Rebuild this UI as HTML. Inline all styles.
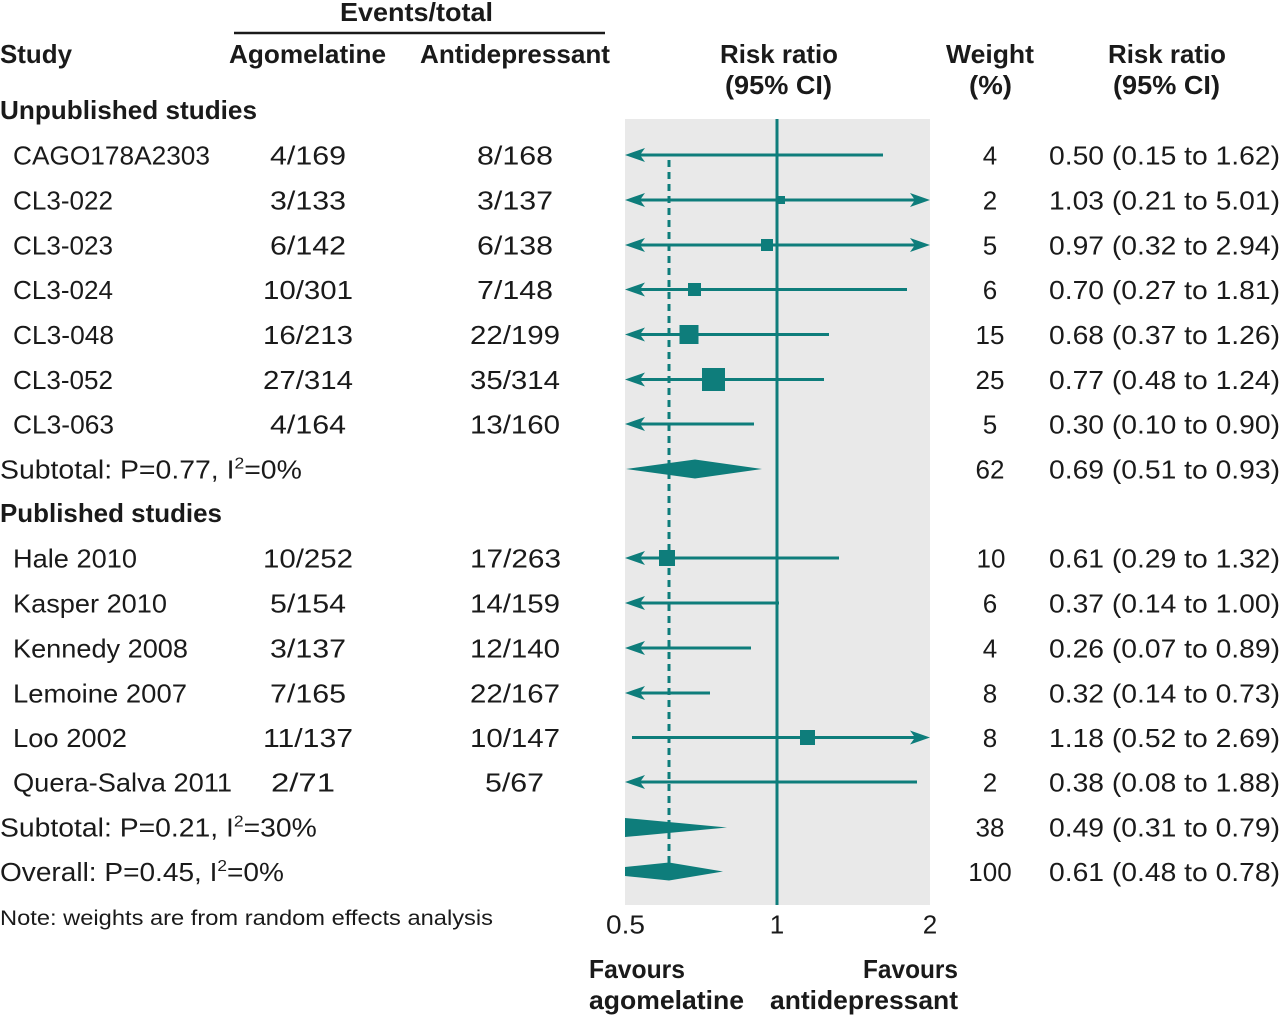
<!DOCTYPE html>
<html><head><meta charset="utf-8"><style>
html,body{margin:0;padding:0;background:#fff;}
svg{display:block;}
text{font-family:"Liberation Sans",sans-serif;fill:#1a1a1a;}
.b{font-weight:bold;font-size:26px;}
.r{font-size:26px;}
</style></head><body>
<svg width="1280" height="1017" viewBox="0 0 1280 1017" xmlns="http://www.w3.org/2000/svg">
<!-- headers -->
<text class="b" x="340" y="21" textLength="153" lengthAdjust="spacingAndGlyphs">Events/total</text>
<line x1="234" y1="33" x2="605" y2="33" stroke="#1a1a1a" stroke-width="2.5"/>
<text class="b" x="0" y="63" textLength="72" lengthAdjust="spacingAndGlyphs">Study</text>
<text class="b" x="229" y="63" textLength="157" lengthAdjust="spacingAndGlyphs">Agomelatine</text>
<text class="b" x="420" y="63" textLength="190" lengthAdjust="spacingAndGlyphs">Antidepressant</text>
<text class="b" x="720" y="63" textLength="118" lengthAdjust="spacingAndGlyphs">Risk ratio</text>
<text class="b" x="725" y="94" textLength="107" lengthAdjust="spacingAndGlyphs">(95% CI)</text>
<text class="b" x="946" y="63" textLength="88" lengthAdjust="spacingAndGlyphs">Weight</text>
<text class="b" x="969" y="94" textLength="43" lengthAdjust="spacingAndGlyphs">(%)</text>
<text class="b" x="1108" y="63" textLength="118" lengthAdjust="spacingAndGlyphs">Risk ratio</text>
<text class="b" x="1113" y="94" textLength="107" lengthAdjust="spacingAndGlyphs">(95% CI)</text>
<text class="b" x="0" y="119" textLength="257" lengthAdjust="spacingAndGlyphs">Unpublished studies</text>
<text class="b" x="0" y="522" textLength="222" lengthAdjust="spacingAndGlyphs">Published studies</text>

<!-- plot background -->
<rect x="625" y="119" width="305" height="786" fill="#e9e9e9"/>

<g fill="#0e7d7b" stroke="none">
<!-- dashed overall line -->
<line x1="669" y1="160" x2="669" y2="880" stroke="#0e7d7b" stroke-width="3" stroke-dasharray="7 5"/>
<!-- null line -->
<line x1="777" y1="119" x2="777" y2="905" stroke="#0e7d7b" stroke-width="3"/>

<!-- row 1 -->
<line x1="635" y1="155" x2="883" y2="155" stroke="#0e7d7b" stroke-width="3"/>
<path d="M625,155 L645,148 L640,155 L645,162 Z"/>
<!-- row 2 -->
<line x1="635" y1="200" x2="920" y2="200" stroke="#0e7d7b" stroke-width="3"/>
<path d="M625,200 L645,193 L640,200 L645,207 Z"/>
<path d="M930,200 L910,193 L915,200 L910,207 Z"/>
<rect x="777" y="196" width="8" height="8"/>
<!-- row 3 -->
<line x1="635" y1="245" x2="920" y2="245" stroke="#0e7d7b" stroke-width="3"/>
<path d="M625,245 L645,238 L640,245 L645,252 Z"/>
<path d="M930,245 L910,238 L915,245 L910,252 Z"/>
<rect x="761" y="239" width="12" height="12"/>
<!-- row 4 -->
<line x1="635" y1="289.5" x2="907" y2="289.5" stroke="#0e7d7b" stroke-width="3"/>
<path d="M625,289.5 L645,282.5 L640,289.5 L645,296.5 Z"/>
<rect x="688" y="283" width="13" height="13"/>
<!-- row 5 -->
<line x1="635" y1="334.5" x2="829" y2="334.5" stroke="#0e7d7b" stroke-width="3"/>
<path d="M625,334.5 L645,327.5 L640,334.5 L645,341.5 Z"/>
<rect x="679.5" y="325" width="19" height="19"/>
<!-- row 6 -->
<line x1="635" y1="379.5" x2="824" y2="379.5" stroke="#0e7d7b" stroke-width="3"/>
<path d="M625,379.5 L645,372.5 L640,379.5 L645,386.5 Z"/>
<rect x="702" y="368" width="23" height="23"/>
<!-- row 7 -->
<line x1="635" y1="424" x2="754" y2="424" stroke="#0e7d7b" stroke-width="3"/>
<path d="M625,424 L645,417 L640,424 L645,431 Z"/>
<!-- subtotal 1 -->
<polygon points="626,469 695,459.5 762,469 695,478.5"/>

<!-- Hale -->
<line x1="635" y1="558" x2="839" y2="558" stroke="#0e7d7b" stroke-width="3"/>
<path d="M625,558 L645,551 L640,558 L645,565 Z"/>
<rect x="659" y="550" width="16" height="16"/>
<!-- Kasper -->
<line x1="635" y1="603" x2="779" y2="603" stroke="#0e7d7b" stroke-width="3"/>
<path d="M625,603 L645,596 L640,603 L645,610 Z"/>
<!-- Kennedy -->
<line x1="635" y1="648" x2="751" y2="648" stroke="#0e7d7b" stroke-width="3"/>
<path d="M625,648 L645,641 L640,648 L645,655 Z"/>
<!-- Lemoine -->
<line x1="635" y1="693" x2="710" y2="693" stroke="#0e7d7b" stroke-width="3"/>
<path d="M625,693 L645,686 L640,693 L645,700 Z"/>
<!-- Loo -->
<line x1="632" y1="737.5" x2="920" y2="737.5" stroke="#0e7d7b" stroke-width="3"/>
<path d="M930,737.5 L910,730.5 L915,737.5 L910,744.5 Z"/>
<rect x="800" y="730" width="15" height="15"/>
<!-- Quera-Salva -->
<line x1="635" y1="782" x2="917" y2="782" stroke="#0e7d7b" stroke-width="3"/>
<path d="M625,782 L645,775 L640,782 L645,789 Z"/>
<!-- subtotal 2 -->
<polygon points="625,818 727,827.5 625,837"/>
<!-- overall -->
<polygon points="625,867 669,862.5 723,871.5 669,880.5 625,876"/>
</g>

<!-- study names -->
<g class="r">
<text class="r" x="13" y="164.5" textLength="197" lengthAdjust="spacingAndGlyphs">CAGO178A2303</text>
<text class="r" x="13" y="209.5" textLength="100" lengthAdjust="spacingAndGlyphs">CL3-022</text>
<text class="r" x="13" y="254.5" textLength="100" lengthAdjust="spacingAndGlyphs">CL3-023</text>
<text class="r" x="13" y="299" textLength="100" lengthAdjust="spacingAndGlyphs">CL3-024</text>
<text class="r" x="13" y="344" textLength="101" lengthAdjust="spacingAndGlyphs">CL3-048</text>
<text class="r" x="13" y="389" textLength="100" lengthAdjust="spacingAndGlyphs">CL3-052</text>
<text class="r" x="13" y="433.5" textLength="101" lengthAdjust="spacingAndGlyphs">CL3-063</text>
<text class="r" x="13" y="567.5" textLength="124" lengthAdjust="spacingAndGlyphs">Hale 2010</text>
<text class="r" x="13" y="612.5" textLength="154" lengthAdjust="spacingAndGlyphs">Kasper 2010</text>
<text class="r" x="13" y="657.5" textLength="175" lengthAdjust="spacingAndGlyphs">Kennedy 2008</text>
<text class="r" x="13" y="702.5" textLength="174" lengthAdjust="spacingAndGlyphs">Lemoine 2007</text>
<text class="r" x="13" y="747" textLength="114" lengthAdjust="spacingAndGlyphs">Loo 2002</text>
<text class="r" x="13" y="791.5" textLength="219" lengthAdjust="spacingAndGlyphs">Quera-Salva 2011</text>

<!-- subtotals -->
<text class="r" x="0" y="478.5" transform="scale(1.093,1)">Subtotal: P=0.77, I<tspan font-size="16" dy="-10">2</tspan><tspan dy="10">=0%</tspan></text>
<text class="r" x="0" y="836.5" transform="scale(1.09,1)">Subtotal: P=0.21, I<tspan font-size="16" dy="-10">2</tspan><tspan dy="10">=30%</tspan></text>
<text class="r" x="0" y="881" transform="scale(1.079,1)">Overall: P=0.45, I<tspan font-size="16" dy="-10">2</tspan><tspan dy="10">=0%</tspan></text>

<!-- agomelatine -->
<text class="r" x="270" y="164.5" textLength="76" lengthAdjust="spacingAndGlyphs">4/169</text>
<text class="r" x="270" y="209.5" textLength="76" lengthAdjust="spacingAndGlyphs">3/133</text>
<text class="r" x="270" y="254.5" textLength="76" lengthAdjust="spacingAndGlyphs">6/142</text>
<text class="r" x="263" y="299" textLength="90" lengthAdjust="spacingAndGlyphs">10/301</text>
<text class="r" x="263" y="344" textLength="90" lengthAdjust="spacingAndGlyphs">16/213</text>
<text class="r" x="263" y="389" textLength="90" lengthAdjust="spacingAndGlyphs">27/314</text>
<text class="r" x="270" y="433.5" textLength="76" lengthAdjust="spacingAndGlyphs">4/164</text>
<text class="r" x="263" y="567.5" textLength="90" lengthAdjust="spacingAndGlyphs">10/252</text>
<text class="r" x="270" y="612.5" textLength="76" lengthAdjust="spacingAndGlyphs">5/154</text>
<text class="r" x="270" y="657.5" textLength="76" lengthAdjust="spacingAndGlyphs">3/137</text>
<text class="r" x="270" y="702.5" textLength="76" lengthAdjust="spacingAndGlyphs">7/165</text>
<text class="r" x="263" y="747" textLength="90" lengthAdjust="spacingAndGlyphs">11/137</text>
<text class="r" x="271" y="791.5" textLength="64" lengthAdjust="spacingAndGlyphs">2/71</text>

<!-- antidepressant -->
<text class="r" x="477" y="164.5" textLength="76" lengthAdjust="spacingAndGlyphs">8/168</text>
<text class="r" x="477" y="209.5" textLength="76" lengthAdjust="spacingAndGlyphs">3/137</text>
<text class="r" x="477" y="254.5" textLength="76" lengthAdjust="spacingAndGlyphs">6/138</text>
<text class="r" x="477" y="299" textLength="76" lengthAdjust="spacingAndGlyphs">7/148</text>
<text class="r" x="470" y="344" textLength="90" lengthAdjust="spacingAndGlyphs">22/199</text>
<text class="r" x="470" y="389" textLength="90" lengthAdjust="spacingAndGlyphs">35/314</text>
<text class="r" x="470" y="433.5" textLength="90" lengthAdjust="spacingAndGlyphs">13/160</text>
<text class="r" x="470" y="567.5" textLength="91" lengthAdjust="spacingAndGlyphs">17/263</text>
<text class="r" x="470" y="612.5" textLength="90" lengthAdjust="spacingAndGlyphs">14/159</text>
<text class="r" x="470" y="657.5" textLength="90" lengthAdjust="spacingAndGlyphs">12/140</text>
<text class="r" x="470" y="702.5" textLength="90" lengthAdjust="spacingAndGlyphs">22/167</text>
<text class="r" x="470" y="747" textLength="90" lengthAdjust="spacingAndGlyphs">10/147</text>
<text class="r" x="485" y="791.5" textLength="59" lengthAdjust="spacingAndGlyphs">5/67</text>

<!-- weights -->
<g text-anchor="middle">
<text class="r" x="990" y="164.5">4</text>
<text class="r" x="990" y="209.5">2</text>
<text class="r" x="990" y="254.5">5</text>
<text class="r" x="990" y="299">6</text>
<text class="r" x="990" y="344">15</text>
<text class="r" x="990" y="389">25</text>
<text class="r" x="990" y="433.5">5</text>
<text class="r" x="990" y="478.5">62</text>
<text class="r" x="991" y="567.5">10</text>
<text class="r" x="990" y="612.5">6</text>
<text class="r" x="990" y="657.5">4</text>
<text class="r" x="990" y="702.5">8</text>
<text class="r" x="990" y="747">8</text>
<text class="r" x="990" y="791.5">2</text>
<text class="r" x="990" y="836.5">38</text>
<text class="r" x="990" y="881">100</text>
</g>

<!-- CIs -->
<text class="r" x="1049" y="164.5" textLength="231" lengthAdjust="spacingAndGlyphs">0.50 (0.15 to 1.62)</text>
<text class="r" x="1049" y="209.5" textLength="231" lengthAdjust="spacingAndGlyphs">1.03 (0.21 to 5.01)</text>
<text class="r" x="1049" y="254.5" textLength="231" lengthAdjust="spacingAndGlyphs">0.97 (0.32 to 2.94)</text>
<text class="r" x="1049" y="299" textLength="231" lengthAdjust="spacingAndGlyphs">0.70 (0.27 to 1.81)</text>
<text class="r" x="1049" y="344" textLength="231" lengthAdjust="spacingAndGlyphs">0.68 (0.37 to 1.26)</text>
<text class="r" x="1049" y="389" textLength="231" lengthAdjust="spacingAndGlyphs">0.77 (0.48 to 1.24)</text>
<text class="r" x="1049" y="433.5" textLength="231" lengthAdjust="spacingAndGlyphs">0.30 (0.10 to 0.90)</text>
<text class="r" x="1049" y="478.5" textLength="231" lengthAdjust="spacingAndGlyphs">0.69 (0.51 to 0.93)</text>
<text class="r" x="1049" y="567.5" textLength="231" lengthAdjust="spacingAndGlyphs">0.61 (0.29 to 1.32)</text>
<text class="r" x="1049" y="612.5" textLength="231" lengthAdjust="spacingAndGlyphs">0.37 (0.14 to 1.00)</text>
<text class="r" x="1049" y="657.5" textLength="231" lengthAdjust="spacingAndGlyphs">0.26 (0.07 to 0.89)</text>
<text class="r" x="1049" y="702.5" textLength="231" lengthAdjust="spacingAndGlyphs">0.32 (0.14 to 0.73)</text>
<text class="r" x="1049" y="747" textLength="231" lengthAdjust="spacingAndGlyphs">1.18 (0.52 to 2.69)</text>
<text class="r" x="1049" y="791.5" textLength="231" lengthAdjust="spacingAndGlyphs">0.38 (0.08 to 1.88)</text>
<text class="r" x="1049" y="836.5" textLength="231" lengthAdjust="spacingAndGlyphs">0.49 (0.31 to 0.79)</text>
<text class="r" x="1049" y="881" textLength="231" lengthAdjust="spacingAndGlyphs">0.61 (0.48 to 0.78)</text>
</g>

<!-- note -->
<text x="0" y="925" font-size="21" textLength="493" lengthAdjust="spacingAndGlyphs">Note: weights are from random effects analysis</text>

<!-- axis labels -->
<text class="r" x="606" y="933.5" textLength="39" lengthAdjust="spacingAndGlyphs">0.5</text>
<text class="r" x="777" y="933.5" text-anchor="middle">1</text>
<text class="r" x="930" y="933.5" text-anchor="middle">2</text>

<!-- favours -->
<text class="b" x="589" y="978" textLength="96" lengthAdjust="spacingAndGlyphs">Favours</text>
<text class="b" x="589" y="1009" textLength="155" lengthAdjust="spacingAndGlyphs">agomelatine</text>
<text class="b" x="863" y="978" textLength="95" lengthAdjust="spacingAndGlyphs">Favours</text>
<text class="b" x="770" y="1009" textLength="188" lengthAdjust="spacingAndGlyphs">antidepressant</text>
</svg>
</body></html>
